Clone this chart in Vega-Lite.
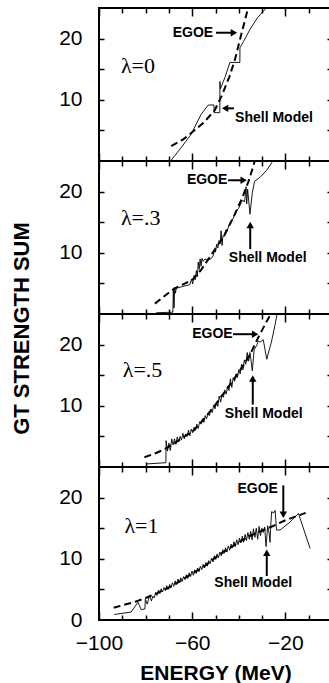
{
  "$schema": "https://vega.github.io/schema/vega-lite/v6.json",
  "padding": {"left": 9, "top": 6, "right": 0, "bottom": 0},
  "spacing": 0,
  "bounds": "flush",
  "config": {
    "view": {"stroke": "black", "strokeWidth": 2},
    "font": "Liberation Sans",
    "axis": {"domain": false, "grid": false, "labelFont": "Liberation Sans", "labelFontSize": 21, "labelColor": "black", "labelFlush": false, "labelOverlap": false, "tickColor": "black", "tickWidth": 1.5, "titleFont": "Liberation Sans", "titleFontSize": 21, "titleFontWeight": "bold", "titleColor": "black"}
  },
  "datasets": {
    "egoe": [
      {"p":0,"x":-69,"y":2.45},{"p":0,"x":-64,"y":3.5},{"p":0,"x":-60.3,"y":4.6},{"p":0,"x":-55,"y":6.3},{"p":0,"x":-50.3,"y":8.3},{"p":0,"x":-47.4,"y":10.6},{"p":0,"x":-44,"y":13.8},{"p":0,"x":-41.5,"y":16.8},{"p":0,"x":-38.8,"y":20.9},{"p":0,"x":-36,"y":25.0},
      {"p":1,"x":-76,"y":1.7},{"p":1,"x":-72,"y":2.9},{"p":1,"x":-67.5,"y":4.2},{"p":1,"x":-63,"y":5.0},{"p":1,"x":-59.6,"y":5.7},{"p":1,"x":-56,"y":7.3},{"p":1,"x":-53,"y":9.0},{"p":1,"x":-50,"y":10.7},{"p":1,"x":-46,"y":13.0},{"p":1,"x":-41.7,"y":16.3},{"p":1,"x":-38.5,"y":19.0},{"p":1,"x":-35.9,"y":21.6},{"p":1,"x":-34.3,"y":23.5},{"p":1,"x":-33,"y":25.2},
      {"p":2,"x":-80.5,"y":1.6},{"p":2,"x":-76,"y":2.2},{"p":2,"x":-71.9,"y":2.9},{"p":2,"x":-68,"y":3.8},{"p":2,"x":-64,"y":4.8},{"p":2,"x":-59.6,"y":5.9},{"p":2,"x":-55,"y":7.8},{"p":2,"x":-50,"y":10.2},{"p":2,"x":-46,"y":12.3},{"p":2,"x":-42,"y":14.4},{"p":2,"x":-38,"y":16.6},{"p":2,"x":-35,"y":18.5},{"p":2,"x":-32,"y":20.9},{"p":2,"x":-29,"y":23.1},{"p":2,"x":-26,"y":25.2},
      {"p":3,"x":-93.7,"y":2.0},{"p":3,"x":-90,"y":2.4},{"p":3,"x":-85,"y":2.9},{"p":3,"x":-80,"y":3.6},{"p":3,"x":-75,"y":4.4},{"p":3,"x":-70,"y":5.3},{"p":3,"x":-65,"y":6.4},{"p":3,"x":-60,"y":7.6},{"p":3,"x":-55,"y":8.7},{"p":3,"x":-50,"y":10.2},{"p":3,"x":-45,"y":11.5},{"p":3,"x":-40,"y":12.7},{"p":3,"x":-35,"y":13.8},{"p":3,"x":-30,"y":14.6},{"p":3,"x":-25,"y":15.4},{"p":3,"x":-20,"y":16.3},{"p":3,"x":-15,"y":17.0},{"p":3,"x":-11.3,"y":17.5}
    ],
    "shell": [
      {"p":0,"x":-69.3,"y":0},{"p":0,"x":-64.5,"y":2.3},{"p":0,"x":-60.5,"y":4.35},{"p":0,"x":-56.2,"y":7.6},{"p":0,"x":-53.1,"y":9.15},{"p":0,"x":-50.65,"y":9.15},{"p":0,"x":-50.6,"y":7.9},{"p":0,"x":-48.15,"y":7.9},{"p":0,"x":-48.1,"y":13.0},{"p":0,"x":-47.9,"y":11.8},{"p":0,"x":-46,"y":13.6},{"p":0,"x":-43.8,"y":16.1},{"p":0,"x":-39.55,"y":16.1},{"p":0,"x":-39.5,"y":18.5},{"p":0,"x":-38,"y":19.5},{"p":0,"x":-35.2,"y":21.5},{"p":0,"x":-32,"y":23.4},{"p":0,"x":-28.7,"y":24.8},{"p":0,"x":-27.5,"y":25.4},
      {"p":1,"x":-75.5,"y":0.2},{"p":1,"x":-68.3,"y":0.3},{"p":1,"x":-68.1,"y":3.9},{"p":1,"x":-67.8,"y":1.0},{"p":1,"x":-67.5,"y":4.4},{"p":1,"x":-67.2,"y":3.4},{"p":1,"x":-66.8,"y":4.2},{"p":1,"x":-64,"y":4.5},{"p":1,"x":-61,"y":4.8},{"p":1,"x":-60.3,"y":5.7},{"p":1,"x":-59.8,"y":4.9},{"p":1,"x":-59.2,"y":6.3},{"p":1,"x":-58.7,"y":5.6},{"p":1,"x":-58.2,"y":7.1},{"p":1,"x":-57.8,"y":6.1},{"p":1,"x":-57.4,"y":8.5},{"p":1,"x":-57,"y":7.3},{"p":1,"x":-56.6,"y":9.0},{"p":1,"x":-56.2,"y":7.8},{"p":1,"x":-55.8,"y":9.1},{"p":1,"x":-55.3,"y":8.6},{"p":1,"x":-54.5,"y":9.0},{"p":1,"x":-53.5,"y":8.8},{"p":1,"x":-52,"y":9.0},{"p":1,"x":-51,"y":9.5},{"p":1,"x":-50.4,"y":10.6},{"p":1,"x":-50,"y":10.1},{"p":1,"x":-49.5,"y":11.4},{"p":1,"x":-49,"y":10.8},{"p":1,"x":-48.5,"y":12.0},{"p":1,"x":-48,"y":11.5},{"p":1,"x":-47.6,"y":13.6},{"p":1,"x":-47.2,"y":11.2},{"p":1,"x":-46.8,"y":12.8},{"p":1,"x":-46.2,"y":12.7},{"p":1,"x":-45.6,"y":13.7},{"p":1,"x":-45,"y":13.6},{"p":1,"x":-44.2,"y":14.5},{"p":1,"x":-43.5,"y":15.1},{"p":1,"x":-42.7,"y":15.4},{"p":1,"x":-41.7,"y":16.3},{"p":1,"x":-40.8,"y":17.0},{"p":1,"x":-40,"y":17.3},{"p":1,"x":-39,"y":18.2},{"p":1,"x":-38.2,"y":18.6},{"p":1,"x":-37.5,"y":18.3},{"p":1,"x":-36.9,"y":20.8},{"p":1,"x":-36.6,"y":18.0},{"p":1,"x":-36.2,"y":20.4},{"p":1,"x":-35.2,"y":16.3},{"p":1,"x":-34.2,"y":19.8},{"p":1,"x":-33.2,"y":21.7},{"p":1,"x":-31,"y":22.3},{"p":1,"x":-28,"y":23.5},{"p":1,"x":-25.9,"y":24.7},{"p":1,"x":-25,"y":25.3},
      {"p":2,"x":-79.7,"y":0.5},{"p":2,"x":-71.3,"y":0.7},{"p":2,"x":-71.2,"y":4.3},{"p":2,"x":-70.6,"y":2.6},{"p":2,"x":-70.0,"y":3.9},{"p":2,"x":-69.4,"y":2.7},{"p":2,"x":-68.8,"y":4.6},{"p":2,"x":-68.2,"y":3.6},{"p":2,"x":-67.6,"y":4.6},{"p":2,"x":-67.0,"y":3.7},{"p":2,"x":-66.4,"y":4.9},{"p":2,"x":-65.8,"y":4.1},{"p":2,"x":-65.2,"y":5.0},{"p":2,"x":-64.6,"y":4.4},{"p":2,"x":-64.0,"y":5.5},{"p":2,"x":-63.4,"y":4.6},{"p":2,"x":-62.8,"y":5.4},{"p":2,"x":-62.2,"y":5.0},{"p":2,"x":-61.6,"y":6.0},{"p":2,"x":-61.0,"y":5.1},{"p":2,"x":-60.4,"y":6.2},{"p":2,"x":-59.8,"y":5.6},{"p":2,"x":-59.2,"y":6.5},{"p":2,"x":-58.6,"y":6.0},{"p":2,"x":-58.0,"y":7.0},{"p":2,"x":-57.4,"y":6.3},{"p":2,"x":-56.8,"y":7.4},{"p":2,"x":-56.2,"y":7.0},{"p":2,"x":-55.6,"y":7.9},{"p":2,"x":-55.0,"y":7.3},{"p":2,"x":-54.4,"y":8.4},{"p":2,"x":-53.8,"y":7.9},{"p":2,"x":-53.2,"y":8.8},{"p":2,"x":-52.6,"y":8.4},{"p":2,"x":-52.0,"y":9.4},{"p":2,"x":-51.4,"y":8.9},{"p":2,"x":-50.8,"y":10.1},{"p":2,"x":-50.2,"y":9.5},{"p":2,"x":-49.6,"y":10.5},{"p":2,"x":-49.0,"y":9.9},{"p":2,"x":-48.4,"y":11.6},{"p":2,"x":-47.8,"y":10.6},{"p":2,"x":-47.2,"y":11.8},{"p":2,"x":-46.6,"y":11.4},{"p":2,"x":-46.0,"y":12.6},{"p":2,"x":-45.4,"y":11.9},{"p":2,"x":-44.8,"y":13.2},{"p":2,"x":-44.2,"y":12.5},{"p":2,"x":-43.6,"y":14.4},{"p":2,"x":-43.0,"y":13.0},{"p":2,"x":-42.4,"y":14.6},{"p":2,"x":-41.8,"y":14.0},{"p":2,"x":-41.2,"y":15.2},{"p":2,"x":-40.6,"y":14.6},{"p":2,"x":-40.0,"y":15.9},{"p":2,"x":-39.4,"y":15.2},{"p":2,"x":-38.8,"y":16.8},{"p":2,"x":-38.2,"y":15.9},{"p":2,"x":-37.6,"y":17.5},{"p":2,"x":-37.0,"y":16.8},{"p":2,"x":-36.4,"y":18.7},{"p":2,"x":-35.8,"y":17.3},{"p":2,"x":-35.2,"y":18.7},{"p":2,"x":-34.6,"y":17.0},{"p":2,"x":-34.2,"y":15.7},{"p":2,"x":-33.4,"y":19.2},{"p":2,"x":-32.4,"y":19.8},{"p":2,"x":-31.6,"y":20.6},{"p":2,"x":-30.9,"y":20.4},{"p":2,"x":-29.5,"y":20.8},{"p":2,"x":-28.0,"y":17.6},{"p":2,"x":-25.9,"y":20.6},{"p":2,"x":-24.4,"y":23.3},{"p":2,"x":-23.5,"y":25.2},
      {"p":3,"x":-93.4,"y":0.9},{"p":3,"x":-86.2,"y":1.3},{"p":3,"x":-83.3,"y":2.9},{"p":3,"x":-81.9,"y":1.7},{"p":3,"x":-80.3,"y":1.8},{"p":3,"x":-80.1,"y":3.4},{"p":3,"x":-79.3,"y":2.6},{"p":3,"x":-78.3,"y":4.0},{"p":3,"x":-77.5,"y":3.1},{"p":3,"x":-76.9,"y":3.9},{"p":3,"x":-76.3,"y":3.6},{"p":3,"x":-75.7,"y":4.5},{"p":3,"x":-75.1,"y":4.0},{"p":3,"x":-74.5,"y":4.9},{"p":3,"x":-73.9,"y":4.3},{"p":3,"x":-73.3,"y":5.1},{"p":3,"x":-72.7,"y":4.6},{"p":3,"x":-72.1,"y":5.3},{"p":3,"x":-71.5,"y":4.8},{"p":3,"x":-70.9,"y":5.6},{"p":3,"x":-70.3,"y":5.0},{"p":3,"x":-69.7,"y":5.8},{"p":3,"x":-69.1,"y":5.3},{"p":3,"x":-68.5,"y":6.1},{"p":3,"x":-67.9,"y":5.5},{"p":3,"x":-67.3,"y":6.4},{"p":3,"x":-66.7,"y":5.8},{"p":3,"x":-66.1,"y":6.7},{"p":3,"x":-65.5,"y":6.1},{"p":3,"x":-64.9,"y":6.9},{"p":3,"x":-64.3,"y":6.3},{"p":3,"x":-63.7,"y":7.1},{"p":3,"x":-63.1,"y":6.6},{"p":3,"x":-62.5,"y":7.4},{"p":3,"x":-61.9,"y":6.8},{"p":3,"x":-61.3,"y":7.7},{"p":3,"x":-60.7,"y":7.1},{"p":3,"x":-60.1,"y":8.0},{"p":3,"x":-59.5,"y":7.3},{"p":3,"x":-58.9,"y":8.2},{"p":3,"x":-58.3,"y":7.6},{"p":3,"x":-57.7,"y":8.5},{"p":3,"x":-57.1,"y":7.9},{"p":3,"x":-56.5,"y":8.8},{"p":3,"x":-55.9,"y":8.2},{"p":3,"x":-55.3,"y":9.1},{"p":3,"x":-54.7,"y":8.5},{"p":3,"x":-54.1,"y":9.4},{"p":3,"x":-53.5,"y":8.8},{"p":3,"x":-52.9,"y":9.7},{"p":3,"x":-52.3,"y":9.2},{"p":3,"x":-51.7,"y":10.1},{"p":3,"x":-51.1,"y":9.5},{"p":3,"x":-50.5,"y":10.5},{"p":3,"x":-49.9,"y":9.9},{"p":3,"x":-49.3,"y":10.8},{"p":3,"x":-48.7,"y":10.2},{"p":3,"x":-48.1,"y":11.1},{"p":3,"x":-47.5,"y":10.5},{"p":3,"x":-46.9,"y":11.5},{"p":3,"x":-46.3,"y":10.9},{"p":3,"x":-45.7,"y":11.8},{"p":3,"x":-45.1,"y":11.1},{"p":3,"x":-44.5,"y":12.1},{"p":3,"x":-43.9,"y":11.4},{"p":3,"x":-43.3,"y":12.4},{"p":3,"x":-42.7,"y":11.8},{"p":3,"x":-42.1,"y":12.8},{"p":3,"x":-41.5,"y":12.0},{"p":3,"x":-40.9,"y":13.1},{"p":3,"x":-40.3,"y":12.3},{"p":3,"x":-39.7,"y":13.4},{"p":3,"x":-39.1,"y":12.6},{"p":3,"x":-38.5,"y":13.7},{"p":3,"x":-37.9,"y":12.7},{"p":3,"x":-37.3,"y":14.0},{"p":3,"x":-36.7,"y":13.0},{"p":3,"x":-36.1,"y":14.3},{"p":3,"x":-35.5,"y":13.2},{"p":3,"x":-34.9,"y":14.5},{"p":3,"x":-34.3,"y":13.1},{"p":3,"x":-33.7,"y":14.9},{"p":3,"x":-33.1,"y":13.5},{"p":3,"x":-32.5,"y":15.0},{"p":3,"x":-31.9,"y":13.2},{"p":3,"x":-31.3,"y":15.3},{"p":3,"x":-30.7,"y":13.8},{"p":3,"x":-30.1,"y":15.0},{"p":3,"x":-29.5,"y":14.3},{"p":3,"x":-28.9,"y":15.2},{"p":3,"x":-28.3,"y":12.0},{"p":3,"x":-27.6,"y":15.4},{"p":3,"x":-27.0,"y":14.2},{"p":3,"x":-26.6,"y":12.7},{"p":3,"x":-26.2,"y":16.0},{"p":3,"x":-25.9,"y":17.7},{"p":3,"x":-25.0,"y":17.5},{"p":3,"x":-24.4,"y":17.9},{"p":3,"x":-23.8,"y":14.7},{"p":3,"x":-22.3,"y":14.7},{"p":3,"x":-18,"y":16.0},{"p":3,"x":-14.4,"y":17.4},{"p":3,"x":-9.4,"y":11.7}
    ],
    "notes": [
      {"p":0,"x":-59.7,"y":20.9,"text":"EGOE"},{"p":0,"x":-24.9,"y":7.0,"text":"Shell Model"},
      {"p":1,"x":-53.6,"y":21.85,"text":"EGOE"},{"p":1,"x":-27.6,"y":9.1,"text":"Shell Model"},
      {"p":2,"x":-51.3,"y":21.7,"text":"EGOE"},{"p":2,"x":-29.3,"y":8.7,"text":"Shell Model"},
      {"p":3,"x":-31.9,"y":21.45,"text":"EGOE"},{"p":3,"x":-33.8,"y":6.0,"text":"Shell Model"}
    ],
    "arrows": [
      {"p":0,"x":-49.8,"y":20.96,"x2":-42.1,"y2":20.96},{"p":0,"x":-42.1,"y":8.6,"x2":-45.9,"y2":8.6},
      {"p":1,"x":-44.6,"y":21.85,"x2":-37.9,"y2":21.85},{"p":1,"x":-35.1,"y":10.6,"x2":-35.1,"y2":14.55},
      {"p":2,"x":-42.5,"y":21.7,"x2":-33.0,"y2":21.7},{"p":2,"x":-34.0,"y":10.2,"x2":-34.0,"y2":14.45},
      {"p":3,"x":-20.9,"y":22.0,"x2":-20.9,"y2":17.2},{"p":3,"x":-28.0,"y":7.2,"x2":-28.0,"y2":11.0}
    ],
    "heads": [
      {"p":0,"x":-42.1,"y":20.96,"shape":"triangle-right"},{"p":0,"x":-45.9,"y":8.6,"shape":"triangle-left"},
      {"p":1,"x":-37.9,"y":21.85,"shape":"triangle-right"},{"p":1,"x":-35.1,"y":14.55,"shape":"triangle-up"},
      {"p":2,"x":-33.0,"y":21.7,"shape":"triangle-right"},{"p":2,"x":-34.0,"y":14.45,"shape":"triangle-up"},
      {"p":3,"x":-20.9,"y":17.2,"shape":"triangle-down"},{"p":3,"x":-28.0,"y":11.0,"shape":"triangle-up"}
    ],
    "lam": [
      {"p":0,"x":-90.6,"y":15.5,"text":"λ=0"},{"p":1,"x":-90.6,"y":15.7,"text":"λ=.3"},{"p":2,"x":-89.8,"y":15.8,"text":"λ=.5"},{"p":3,"x":-89.1,"y":15.4,"text":"λ=1"}
    ]
  },
  "vconcat": [
    {
      "width": 233, "height": 153,
      "resolve": {"axis": {"x": "independent", "y": "independent"}},
      "layer": [
        {"data": {"name": "egoe"}, "transform": [{"filter": "datum.p == 0"}], "mark": {"type": "line", "color": "black", "strokeWidth": 2, "strokeDash": [7, 4], "clip": true},
         "encoding": {"x": {"field": "x", "type": "quantitative", "scale": {"domain": [-100, 0], "nice": false, "zero": false}, "axis": null},
                      "y": {"field": "y", "type": "quantitative", "scale": {"domain": [0, 25], "nice": false, "zero": false}, "axis": {"orient": "left", "values": [10, 20], "ticks": false, "labelPadding": 17, "title": null}}}},
        {"data": {"name": "shell"}, "transform": [{"filter": "datum.p == 0"}], "mark": {"type": "line", "color": "black", "strokeWidth": 0.9, "clip": true},
         "encoding": {"x": {"field": "x", "type": "quantitative", "scale": {"domain": [-100, 0], "nice": false, "zero": false}, "axis": {"orient": "bottom", "values": [-100, -60, -20], "labels": false, "tickSize": -8, "title": null}},
                      "y": {"field": "y", "type": "quantitative", "scale": {"domain": [0, 25], "nice": false, "zero": false}, "axis": {"orient": "left", "values": [5, 10, 15, 20], "labels": false, "tickSize": -5, "title": null}}}},
        {"data": {"name": "notes"}, "transform": [{"filter": "datum.p == 0"}], "mark": {"type": "text", "font": "Liberation Sans", "fontSize": 14, "fontWeight": "bold", "color": "black", "baseline": "middle"},
         "encoding": {"x": {"field": "x", "type": "quantitative", "scale": {"domain": [-100, 0], "nice": false, "zero": false}, "axis": {"orient": "bottom", "values": [-90, -80, -70, -50, -40, -30, -10], "labels": false, "tickSize": -5, "title": null}},
                      "y": {"field": "y", "type": "quantitative", "scale": {"domain": [0, 25], "nice": false, "zero": false}, "axis": {"orient": "right", "values": [5, 10, 15, 20], "labels": false, "tickSize": -5, "title": null}},
                      "text": {"field": "text"}}},
        {"data": {"name": "arrows"}, "transform": [{"filter": "datum.p == 0"}], "mark": {"type": "rule", "color": "black", "strokeWidth": 2},
         "encoding": {"x": {"field": "x", "type": "quantitative", "scale": {"domain": [-100, 0], "nice": false, "zero": false}, "axis": {"orient": "top", "values": [-100, -60, -20], "labels": false, "tickSize": -8, "title": null}},
                      "x2": {"field": "x2"},
                      "y": {"field": "y", "type": "quantitative", "scale": {"domain": [0, 25], "nice": false, "zero": false}, "axis": null},
                      "y2": {"field": "y2"}}},
        {"data": {"name": "heads"}, "transform": [{"filter": "datum.p == 0"}], "mark": {"type": "point", "filled": true, "color": "black", "size": 55, "opacity": 1},
         "encoding": {"x": {"field": "x", "type": "quantitative", "scale": {"domain": [-100, 0], "nice": false, "zero": false}, "axis": {"orient": "top", "values": [-90, -80, -70, -50, -40, -30, -10], "labels": false, "tickSize": -5, "title": null}},
                      "y": {"field": "y", "type": "quantitative", "scale": {"domain": [0, 25], "nice": false, "zero": false}, "axis": null},
                      "shape": {"field": "shape", "type": "nominal", "scale": null}}},
        {"data": {"name": "lam"}, "transform": [{"filter": "datum.p == 0"}], "mark": {"type": "text", "font": "Liberation Serif", "fontSize": 22, "color": "black", "align": "left", "baseline": "middle"},
         "encoding": {"x": {"field": "x", "type": "quantitative", "scale": {"domain": [-100, 0], "nice": false, "zero": false}, "axis": null},
                      "y": {"field": "y", "type": "quantitative", "scale": {"domain": [0, 25], "nice": false, "zero": false}, "axis": null},
                      "text": {"field": "text"}}}
      ]
    },
    {
      "width": 233, "height": 153,
      "resolve": {"axis": {"x": "independent", "y": "independent"}},
      "layer": [
        {"data": {"name": "egoe"}, "transform": [{"filter": "datum.p == 1"}], "mark": {"type": "line", "color": "black", "strokeWidth": 2, "strokeDash": [7, 4], "clip": true},
         "encoding": {"x": {"field": "x", "type": "quantitative", "scale": {"domain": [-100, 0], "nice": false, "zero": false}, "axis": null},
                      "y": {"field": "y", "type": "quantitative", "scale": {"domain": [0, 25], "nice": false, "zero": false}, "axis": {"orient": "left", "values": [10, 20], "ticks": false, "labelPadding": 17, "title": "GT STRENGTH SUM", "titleFontSize": 22, "titleX": -78, "titleY": 167, "titleAngle": 270, "titleBaseline": "middle", "titleAlign": "center"}}}},
        {"data": {"name": "shell"}, "transform": [{"filter": "datum.p == 1"}], "mark": {"type": "line", "color": "black", "strokeWidth": 0.9, "clip": true},
         "encoding": {"x": {"field": "x", "type": "quantitative", "scale": {"domain": [-100, 0], "nice": false, "zero": false}, "axis": {"orient": "bottom", "values": [-100, -60, -20], "labels": false, "tickSize": -8, "title": null}},
                      "y": {"field": "y", "type": "quantitative", "scale": {"domain": [0, 25], "nice": false, "zero": false}, "axis": {"orient": "left", "values": [5, 10, 15, 20], "labels": false, "tickSize": -5, "title": null}}}},
        {"data": {"name": "notes"}, "transform": [{"filter": "datum.p == 1"}], "mark": {"type": "text", "font": "Liberation Sans", "fontSize": 14, "fontWeight": "bold", "color": "black", "baseline": "middle"},
         "encoding": {"x": {"field": "x", "type": "quantitative", "scale": {"domain": [-100, 0], "nice": false, "zero": false}, "axis": {"orient": "bottom", "values": [-90, -80, -70, -50, -40, -30, -10], "labels": false, "tickSize": -5, "title": null}},
                      "y": {"field": "y", "type": "quantitative", "scale": {"domain": [0, 25], "nice": false, "zero": false}, "axis": {"orient": "right", "values": [5, 10, 15, 20], "labels": false, "tickSize": -5, "title": null}},
                      "text": {"field": "text"}}},
        {"data": {"name": "arrows"}, "transform": [{"filter": "datum.p == 1"}], "mark": {"type": "rule", "color": "black", "strokeWidth": 2},
         "encoding": {"x": {"field": "x", "type": "quantitative", "scale": {"domain": [-100, 0], "nice": false, "zero": false}, "axis": {"orient": "top", "values": [-100, -60, -20], "labels": false, "tickSize": -8, "title": null}},
                      "x2": {"field": "x2"},
                      "y": {"field": "y", "type": "quantitative", "scale": {"domain": [0, 25], "nice": false, "zero": false}, "axis": null},
                      "y2": {"field": "y2"}}},
        {"data": {"name": "heads"}, "transform": [{"filter": "datum.p == 1"}], "mark": {"type": "point", "filled": true, "color": "black", "size": 55, "opacity": 1},
         "encoding": {"x": {"field": "x", "type": "quantitative", "scale": {"domain": [-100, 0], "nice": false, "zero": false}, "axis": {"orient": "top", "values": [-90, -80, -70, -50, -40, -30, -10], "labels": false, "tickSize": -5, "title": null}},
                      "y": {"field": "y", "type": "quantitative", "scale": {"domain": [0, 25], "nice": false, "zero": false}, "axis": null},
                      "shape": {"field": "shape", "type": "nominal", "scale": null}}},
        {"data": {"name": "lam"}, "transform": [{"filter": "datum.p == 1"}], "mark": {"type": "text", "font": "Liberation Serif", "fontSize": 22, "color": "black", "align": "left", "baseline": "middle"},
         "encoding": {"x": {"field": "x", "type": "quantitative", "scale": {"domain": [-100, 0], "nice": false, "zero": false}, "axis": null},
                      "y": {"field": "y", "type": "quantitative", "scale": {"domain": [0, 25], "nice": false, "zero": false}, "axis": null},
                      "text": {"field": "text"}}}
      ]
    },
    {
      "width": 233, "height": 153,
      "resolve": {"axis": {"x": "independent", "y": "independent"}},
      "layer": [
        {"data": {"name": "egoe"}, "transform": [{"filter": "datum.p == 2"}], "mark": {"type": "line", "color": "black", "strokeWidth": 2, "strokeDash": [7, 4], "clip": true},
         "encoding": {"x": {"field": "x", "type": "quantitative", "scale": {"domain": [-100, 0], "nice": false, "zero": false}, "axis": null},
                      "y": {"field": "y", "type": "quantitative", "scale": {"domain": [0, 25], "nice": false, "zero": false}, "axis": {"orient": "left", "values": [10, 20], "ticks": false, "labelPadding": 17, "title": null}}}},
        {"data": {"name": "shell"}, "transform": [{"filter": "datum.p == 2"}], "mark": {"type": "line", "color": "black", "strokeWidth": 0.9, "clip": true},
         "encoding": {"x": {"field": "x", "type": "quantitative", "scale": {"domain": [-100, 0], "nice": false, "zero": false}, "axis": {"orient": "bottom", "values": [-100, -60, -20], "labels": false, "tickSize": -8, "title": null}},
                      "y": {"field": "y", "type": "quantitative", "scale": {"domain": [0, 25], "nice": false, "zero": false}, "axis": {"orient": "left", "values": [5, 10, 15, 20], "labels": false, "tickSize": -5, "title": null}}}},
        {"data": {"name": "notes"}, "transform": [{"filter": "datum.p == 2"}], "mark": {"type": "text", "font": "Liberation Sans", "fontSize": 14, "fontWeight": "bold", "color": "black", "baseline": "middle"},
         "encoding": {"x": {"field": "x", "type": "quantitative", "scale": {"domain": [-100, 0], "nice": false, "zero": false}, "axis": {"orient": "bottom", "values": [-90, -80, -70, -50, -40, -30, -10], "labels": false, "tickSize": -5, "title": null}},
                      "y": {"field": "y", "type": "quantitative", "scale": {"domain": [0, 25], "nice": false, "zero": false}, "axis": {"orient": "right", "values": [5, 10, 15, 20], "labels": false, "tickSize": -5, "title": null}},
                      "text": {"field": "text"}}},
        {"data": {"name": "arrows"}, "transform": [{"filter": "datum.p == 2"}], "mark": {"type": "rule", "color": "black", "strokeWidth": 2},
         "encoding": {"x": {"field": "x", "type": "quantitative", "scale": {"domain": [-100, 0], "nice": false, "zero": false}, "axis": {"orient": "top", "values": [-100, -60, -20], "labels": false, "tickSize": -8, "title": null}},
                      "x2": {"field": "x2"},
                      "y": {"field": "y", "type": "quantitative", "scale": {"domain": [0, 25], "nice": false, "zero": false}, "axis": null},
                      "y2": {"field": "y2"}}},
        {"data": {"name": "heads"}, "transform": [{"filter": "datum.p == 2"}], "mark": {"type": "point", "filled": true, "color": "black", "size": 55, "opacity": 1},
         "encoding": {"x": {"field": "x", "type": "quantitative", "scale": {"domain": [-100, 0], "nice": false, "zero": false}, "axis": {"orient": "top", "values": [-90, -80, -70, -50, -40, -30, -10], "labels": false, "tickSize": -5, "title": null}},
                      "y": {"field": "y", "type": "quantitative", "scale": {"domain": [0, 25], "nice": false, "zero": false}, "axis": null},
                      "shape": {"field": "shape", "type": "nominal", "scale": null}}},
        {"data": {"name": "lam"}, "transform": [{"filter": "datum.p == 2"}], "mark": {"type": "text", "font": "Liberation Serif", "fontSize": 22, "color": "black", "align": "left", "baseline": "middle"},
         "encoding": {"x": {"field": "x", "type": "quantitative", "scale": {"domain": [-100, 0], "nice": false, "zero": false}, "axis": null},
                      "y": {"field": "y", "type": "quantitative", "scale": {"domain": [0, 25], "nice": false, "zero": false}, "axis": null},
                      "text": {"field": "text"}}}
      ]
    },
    {
      "width": 233, "height": 153,
      "resolve": {"axis": {"x": "independent", "y": "independent"}},
      "layer": [
        {"data": {"name": "egoe"}, "transform": [{"filter": "datum.p == 3"}], "mark": {"type": "line", "color": "black", "strokeWidth": 2, "strokeDash": [7, 4], "clip": true},
         "encoding": {"x": {"field": "x", "type": "quantitative", "scale": {"domain": [-100, 0], "nice": false, "zero": false}, "axis": {"orient": "bottom", "values": [-100, -60, -20], "ticks": false, "labelPadding": 12, "title": "ENERGY (MeV)", "titlePadding": 9}},
                      "y": {"field": "y", "type": "quantitative", "scale": {"domain": [0, 25], "nice": false, "zero": false}, "axis": {"orient": "left", "values": [0, 10, 20], "ticks": false, "labelPadding": 17, "title": null}}}},
        {"data": {"name": "shell"}, "transform": [{"filter": "datum.p == 3"}], "mark": {"type": "line", "color": "black", "strokeWidth": 0.9, "clip": true},
         "encoding": {"x": {"field": "x", "type": "quantitative", "scale": {"domain": [-100, 0], "nice": false, "zero": false}, "axis": {"orient": "bottom", "values": [-100, -60, -20], "labels": false, "tickSize": -8, "title": null}},
                      "y": {"field": "y", "type": "quantitative", "scale": {"domain": [0, 25], "nice": false, "zero": false}, "axis": {"orient": "left", "values": [5, 10, 15, 20], "labels": false, "tickSize": -5, "title": null}}}},
        {"data": {"name": "notes"}, "transform": [{"filter": "datum.p == 3"}], "mark": {"type": "text", "font": "Liberation Sans", "fontSize": 14, "fontWeight": "bold", "color": "black", "baseline": "middle"},
         "encoding": {"x": {"field": "x", "type": "quantitative", "scale": {"domain": [-100, 0], "nice": false, "zero": false}, "axis": {"orient": "bottom", "values": [-90, -80, -70, -50, -40, -30, -10], "labels": false, "tickSize": -5, "title": null}},
                      "y": {"field": "y", "type": "quantitative", "scale": {"domain": [0, 25], "nice": false, "zero": false}, "axis": {"orient": "right", "values": [5, 10, 15, 20], "labels": false, "tickSize": -5, "title": null}},
                      "text": {"field": "text"}}},
        {"data": {"name": "arrows"}, "transform": [{"filter": "datum.p == 3"}], "mark": {"type": "rule", "color": "black", "strokeWidth": 2},
         "encoding": {"x": {"field": "x", "type": "quantitative", "scale": {"domain": [-100, 0], "nice": false, "zero": false}, "axis": {"orient": "top", "values": [-100, -60, -20], "labels": false, "tickSize": -8, "title": null}},
                      "x2": {"field": "x2"},
                      "y": {"field": "y", "type": "quantitative", "scale": {"domain": [0, 25], "nice": false, "zero": false}, "axis": null},
                      "y2": {"field": "y2"}}},
        {"data": {"name": "heads"}, "transform": [{"filter": "datum.p == 3"}], "mark": {"type": "point", "filled": true, "color": "black", "size": 55, "opacity": 1},
         "encoding": {"x": {"field": "x", "type": "quantitative", "scale": {"domain": [-100, 0], "nice": false, "zero": false}, "axis": {"orient": "top", "values": [-90, -80, -70, -50, -40, -30, -10], "labels": false, "tickSize": -5, "title": null}},
                      "y": {"field": "y", "type": "quantitative", "scale": {"domain": [0, 25], "nice": false, "zero": false}, "axis": null},
                      "shape": {"field": "shape", "type": "nominal", "scale": null}}},
        {"data": {"name": "lam"}, "transform": [{"filter": "datum.p == 3"}], "mark": {"type": "text", "font": "Liberation Serif", "fontSize": 22, "color": "black", "align": "left", "baseline": "middle"},
         "encoding": {"x": {"field": "x", "type": "quantitative", "scale": {"domain": [-100, 0], "nice": false, "zero": false}, "axis": null},
                      "y": {"field": "y", "type": "quantitative", "scale": {"domain": [0, 25], "nice": false, "zero": false}, "axis": null},
                      "text": {"field": "text"}}}
      ]
    }
  ]
}
